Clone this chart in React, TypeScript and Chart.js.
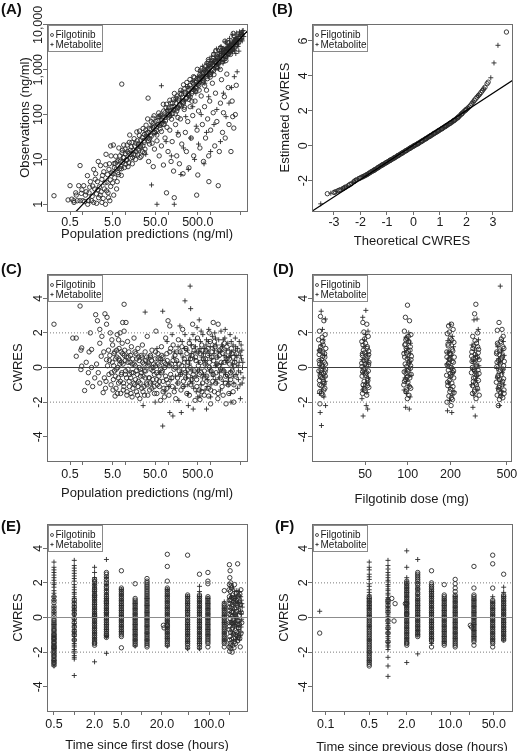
import React, { useEffect, useRef } from 'react';
import { Chart, registerables } from 'chart.js';

Chart.register(...registerables);

type Pt = [number, number];
type XY = { x: number; y: number };

// ---------------- tick values and labels ----------------
const predTicks = [0.5, 1, 5, 10, 50, 100, 500, 1000, 5000];
const predTickLabels = ['0.5', '', '5.0', '', '50.0', '', '500.0', '', ''];
const obsTicks = [1, 10, 100, 1000, 10000];
const obsTickLabels = ['1', '10', '100', '1,000', '10,000'];
const qqXTicks = [-3, -2, -1, 0, 1, 2, 3];
const qqXTickLabels = ['-3', '-2', '-1', '0', '1', '2', '3'];
const qqYTicks = [-2, 0, 2, 4, 6];
const qqYTickLabels = ['-2', '0', '2', '4', '6'];
const cwresTicks = [-4, -2, 0, 2, 4];
const cwresTickLabels = ['-4', '-2', '0', '2', '4'];
const doseTicks = [50, 100, 200, 500];
const doseTickLabels = ['50', '100', '200', '500'];
const firstDoseTicks = [0.5, 1, 2, 5, 10, 20, 50, 100, 200];
const firstDoseTickLabels = ['0.5', '', '2.0', '5.0', '', '20.0', '', '100.0', ''];
const prevDoseTicks = [0.1, 0.2, 0.5, 1, 2, 5, 10, 20, 50];
const prevDoseTickLabels = ['0.1', '', '0.5', '', '2.0', '', '10.0', '', '50.0'];
const seriesNames = ['Filgotinib', 'Metabolite'];

// ---------------- reference lines ----------------
const identityLine: Pt[] = [[0.1, 0.1], [20000, 20000]];
const qqLine: Pt[] = [[-4, -3.92], [4, 4.0]];
const cwresZero = 0;
const cwresBounds = [-2, 2];

// ---------------- (A) observations vs population predictions (ng/ml) ----------------
const aFilgotinib: Pt[] = [
  [0.62,1.1],[0.68,1.8],[0.74,1.2],[0.8,2.6],[0.86,1.2],[0.92,1.75],[1.0,1.2],[1.05,2.6],[1.1,1.15],[1.2,1.9],
  [1.28,4.35],[1.35,1.2],[1.4,1.8],[1.5,3.2],[1.6,1.2],[1.7,2.55],[1.8,1.1],[1.9,2.2],[2.0,4.8],[2.1,1.7],
  [2.2,3.2],[2.35,1.4],[2.45,2.45],[2.6,7.3],[2.7,1.9],[2.8,3.6],[3.0,1.35],[3.1,5.3],[3.3,3.0],[3.45,7.6],
  [3.6,2.0],[3.8,4.6],[4.0,1.4],[4.2,8.0],[4.4,3.5],[4.6,12],[4.8,5.0],[5.0,3.0],[5.2,21],[5.4,8.1],
  [5.6,3.9],[5.9,11.8],[6.1,6.1],[6.4,3.2],[6.7,9.4],[7.0,18],[7.3,6.2],[7.6,9.1],[8.0,4.4],[8.3,14],
  [8.7,8.7],[9.1,21],[9.5,6.6],[10,13.5],[10.5,9.5],[11,21],[11.5,6.9],[12,13.8],[12.6,35],[13.2,10.6],
  [13.8,19],[14.5,8],[15.2,16],[16,29],[16.8,12.6],[17.6,23],[18.5,41],[19.4,12.6],[20.3,22],[21.3,34],
  [22.4,19],[23.5,11.8],[24.7,31],[26,49],[27.3,26],[28.7,17],[30,45],[31.6,33],[33.2,80],[34.9,26],
  [36.7,48],[38.5,35],[40.5,69],[42.5,23],[44.7,51],[47,94],[49.4,40],[52,70],[54.6,35],[57.4,60],
  [60.3,109],[63.4,57],[66.6,97],[70,42],[73.6,88],[77.4,170],[81.3,61],[85.5,86],[89.8,144],[94.4,52],
  [99.2,124],[104,88],[110,209],[115,121],[121,79],[127,178],[134,127],[141,296],[148,104],[155,178],
  [163,261],[171,86],[180,234],[189,170],[199,348],[209,157],[220,242],[231,462],[243,146],[255,319],
  [268,228],[282,423],[296,296],[311,218],[327,605],[344,378],[361,199],[380,513],[399,359],[420,672],
  [441,331],[464,557],[487,1023],[512,486],[538,350],[566,792],[595,625],[625,1063],[657,526],[691,864],
  [726,436],[763,1183],[802,802],[843,632],[886,1683],[931,1071],[979,685],[1029,1389],[1081,973],[1137,1819],
  [1195,777],[1256,1507],[1320,2640],[1387,1179],[1458,1895],[1532,1532],[1611,2739],[1693,1016],[1780,2047],[1871,1497],
  [1966,2851],[2067,2067],[2172,4344],[2283,1598],[2400,3000],[2523,2271],[2652,3978],[2787,3066],[2930,2198],[3080,4158],
  [3237,3237],[3403,6466],[3577,3040],[3760,4512],
  [5.5,6.5],[6.3,8.8],[7.8,7.0],[9.3,11],[11.2,15],[13.5,13],[16.4,20],[19.8,17],[23,27],[27.8,36],
  [33.8,30],[40,47],[48,55],[58,74],[70,63],[85,110],[102,100],[123,150],[148,132],[178,210],
  [214,200],[258,290],[310,350],[372,330],[447,520],[537,610],[645,700],[775,880],[930,850],[1120,1300],
  [1340,1500],[1610,1550],[1930,2300],[2320,2500],[2790,2600],[3340,3600],[4010,4300],
  [6.9,4.6],[8.5,16],[10.2,7.8],[12.3,24],[14.8,11],[17.8,15],[21.4,43],[25.7,20],[30.8,38],[37,29],
  [44.4,83],[53.3,44],[64,90],[76.8,60],[92,170],[111,95],[133,220],[160,120],[192,300],[230,180],
  [276,520],[331,250],[397,700],[477,380],[572,950],[686,560],[824,1400],[989,780],[1187,2200],[1424,1100],
  [1709,3100],[2050,1700],[2460,4100],[2950,2500],[3540,5600],
  [0.95,2.1],[1.15,1.6],[1.45,2.4],[1.65,1.5],[1.95,3.6],[2.25,2.1],[2.55,1.6],[2.9,4.4],[3.2,2.2],[3.7,3.1],
  [4.1,6.0],[4.5,2.5],[5.1,4.8],[5.8,8.2],[6.6,5.1],[7.4,12],[8.1,6.2],[8.9,11],[9.8,17],[10.8,10],
  [11.9,8.4],[13,16],[14.2,24],[15.6,13],[17.2,10],[18.9,26],[20.8,16],[22.9,21],[25.2,15],[27.7,24],
  [30.5,58],[33.5,40],[36.9,22],[40.6,33],[44.6,64],[49,40],[54,53],[59.4,88],[65.3,48],[71.9,75],
  [79,120],[87,72],[95.7,98],[105,140],[116,180],[127,105],[140,150],[154,230],[169,140],[186,160],
  [205,280],[225,190],[248,380],[272,240],[300,270],[330,450],[363,300],[399,480],[439,410],[483,620],
  [531,450],[584,720],[643,580],[707,980],[778,700],[855,1050],[941,1300],[1035,880],[1138,1600],[1252,1250],
  [1378,2000],[1515,1350],[1667,2300],[1833,1700],[2017,2600],[2218,2000],[2440,2900],[2684,2300],[2953,3500],[3248,2800],
  [3573,3900],[3930,3400],[1.3,1.0],[2.1,1.05],[2.8,1.1],[3.4,1.0],[4.3,1.2],[5.3,1.6],[6.2,2.2],[3.9,1.8],
  // scattered above the line at low predictions
  [0.21,1.55],[0.45,1.25],[0.5,2.6],[0.55,1.3],[0.61,1.2],[0.7,1.6],[0.86,7.3],[1.8,6],[2.3,9],[3.5,13],
  [4.5,20],[8.2,478],[34,233],
  // observations far below predictions
  [22,11],[28,14],[35,9],[45,6.9],[48,17],[55,26],[62,12],[70,20],[78,7.5],[85,30],
  [92,1.8],[100,15],[110,45],[118,9],[125,25],[135,5.5],[140,1.4],[150,60],[160,12],[175,35],
  [185,8],[195,80],[210,22],[225,4.8],[240,130],[255,40],[270,15],[290,70],[310,6.5],[330,150],
  [350,30],[380,95],[400,12],[430,200],[470,1.6],[480,45],[500,4.5],[520,120],[560,18],[600,260],
  [640,60],[680,9],[720,150],[760,30],[800,350],[850,80],[910,3.2],[900,12],[950,200],[1000,45],
  [1100,500],[1150,110],[1250,20],[1300,300],[1400,70],[1510,2.6],[1600,15],[1700,180],[1800,600],[1900,40],
  [2000,110],[2100,250],[2200,30],[2400,800],[2600,400],[2700,60],[3000,15],[3200,200],[3300,90],[3500,50],
  [3800,100],[4000,450],
];
const aMetabolite: Pt[] = [
  [40,55],[52,38],[65,90],[80,70],[95,130],[120,95],[150,210],[180,140],[210,330],[250,200],
  [290,420],[330,260],[370,560],[410,380],[450,300],[490,700],[530,480],[570,900],[610,560],[650,1200],
  [690,720],[730,500],[770,1000],[810,1400],[850,760],[890,1150],[930,1700],[970,900],[1010,1300],[1060,2000],
  [1110,850],[1160,1500],[1210,2400],[1260,1100],[1310,1700],[1370,2900],[1430,1300],[1490,2000],[1550,1050],[1610,2500],
  [1680,1600],[1750,3300],[1820,1900],[1890,2600],[1960,1400],[2040,3000],[2120,2200],[2200,4200],[2290,1800],[2380,2800],
  [2470,3600],[2570,2100],[2670,3200],[2780,5000],[2890,2500],[3000,3800],[3120,2900],[3240,6000],[3370,3300],[3500,4300],
  [3640,2700],[3780,5200],[3930,3700],[4080,6600],[4240,4500],[4400,3300],[4580,5600],[4760,7000],[4950,4200],[5150,6200],
  [5350,5000],[5550,7300],[4600,2600],[3900,2300],[5800,6400],
  [600,750],[700,900],[820,1100],[950,1200],[1100,1500],[1250,1400],[1400,1800],[1600,2000],[1800,2300],[2000,2500],
  [2200,2700],[2400,3100],[2600,2900],[2800,3500],[3000,3300],[3200,4000],[3400,3800],[3600,4600],[3800,4200],[4000,5000],
  [4200,4800],[4400,5500],[4600,4500],[4800,6000],[5000,5600],[5200,6800],[5400,4700],[5600,6000],[5800,7500],[6000,5500],
  [1500,1300],[2500,2000],[3500,2900],[4500,3800],[5500,4400],[900,700],[1300,1000],[2100,1600],[3300,2600],[4300,3600],
  [30,13],[41,2.7],[55,1.0],[70,440],[90,25],[120,12],[140,1.0],[170,40],[200,4.6],[230,18],
  [260,90],[300,6],[340,30],[380,150],[420,10],[460,55],[520,22],[600,100],[700,8],[800,40],
  [900,250],[1000,15],[1200,60],[1400,130],[1700,25],[2000,300],[2300,90],[2700,180],[3100,400],[3600,700],
  [4200,900],
];

// ---------------- (B) estimated vs theoretical CWRES ----------------
const bFilgotinib: Pt[] = [
  [-3.25,-2.75],[-3.0,-2.68],[-2.85,-2.58],[-2.75,-2.52],[-2.65,-2.45],[-2.55,-2.36],[-2.45,-2.28],[-2.35,-2.18],[-2.25,-2.06],[-2.15,-1.95],
  [-2.05,-1.88],[-1.95,-1.8],[-1.85,-1.73],[-1.75,-1.65],[-1.65,-1.55],[-1.55,-1.46],[-1.5,-1.42],[-1.45,-1.37],[-1.4,-1.32],[-1.35,-1.27],
  [-1.3,-1.22],[-1.25,-1.17],[-1.2,-1.13],[-1.15,-1.08],[-1.1,-1.04],[-1.05,-0.99],[-1.0,-0.95],[-0.95,-0.9],[-0.9,-0.86],[-0.85,-0.81],
  [-0.8,-0.77],[-0.75,-0.72],[-0.7,-0.68],[-0.65,-0.63],[-0.6,-0.58],[-0.55,-0.54],[-0.5,-0.49],[-0.45,-0.44],[-0.4,-0.4],[-0.35,-0.35],
  [-0.3,-0.3],[-0.25,-0.26],[-0.2,-0.21],[-0.15,-0.16],[-0.1,-0.12],[-0.05,-0.07],[0,-0.03],[0.05,0.02],[0.1,0.06],[0.15,0.1],
  [0.2,0.15],[0.25,0.2],[0.3,0.24],[0.35,0.29],[0.4,0.34],[0.45,0.38],[0.5,0.43],[0.55,0.48],[0.6,0.53],[0.65,0.57],
  [0.7,0.62],[0.75,0.67],[0.8,0.72],[0.85,0.76],[0.9,0.81],[0.95,0.86],[1.0,0.91],[1.05,0.95],[1.1,1.0],[1.15,1.05],
  [1.2,1.1],[1.25,1.15],[1.3,1.2],[1.35,1.25],[1.4,1.3],[1.45,1.35],[1.5,1.41],[1.55,1.46],[1.6,1.52],[1.65,1.58],
  [1.7,1.65],[1.75,1.72],[1.8,1.8],[1.85,1.87],[1.9,1.95],[1.95,2.01],[2.0,2.08],[2.1,2.22],[2.2,2.4],[2.3,2.6],
  [2.4,2.78],[2.5,2.95],[2.6,3.15],[2.7,3.35],[2.78,3.55],[2.82,3.64],[3.51,6.51],
  [-2.95,-2.64],[-2.8,-2.55],[-2.6,-2.4],[-2.4,-2.22],[-2.2,-2.0],[-2.0,-1.84],[-1.9,-1.77],[-1.8,-1.69],[-1.7,-1.6],[-1.6,-1.5],
  [-1.475,-1.39],[-1.325,-1.25],[-1.175,-1.1],[-1.025,-0.97],[-0.875,-0.83],[-0.725,-0.7],[-0.575,-0.56],[-0.425,-0.42],[-0.275,-0.28],[-0.125,-0.14],
  [0.025,0.0],[0.175,0.12],[0.325,0.27],[0.475,0.41],[0.625,0.55],[0.775,0.7],[0.925,0.84],[1.075,0.98],[1.225,1.13],[1.375,1.28],
  [1.525,1.44],[1.675,1.61],[1.825,1.83],[1.975,2.05],[2.05,2.15],[2.15,2.3],[2.25,2.5],[2.35,2.69],[2.45,2.87],[2.55,3.05],
  [2.65,3.25],
];
const bMetabolite: Pt[] = [
  [-3.5,-3.33],[-3.12,-2.72],[-2.92,-2.63],[-2.7,-2.48],[-2.5,-2.32],[-2.3,-2.12],[-2.1,-1.9],[-1.9,-1.77],[-1.7,-1.6],[-1.6,-1.5],
  [-1.38,-1.3],[-1.12,-1.06],[-0.88,-0.84],[-0.62,-0.6],[-0.38,-0.38],[-0.12,-0.14],[0.12,0.08],[0.38,0.32],[0.62,0.55],[0.88,0.79],
  [1.12,1.02],[1.38,1.28],[1.62,1.55],[1.88,1.92],[2.05,2.15],[2.25,2.5],[2.45,2.86],[2.65,3.25],[2.92,3.89],[3.04,4.74],
  [3.19,5.75],
  [-2.6,-2.42],[-2.2,-2.02],[-1.8,-1.7],[-1.5,-1.41],[-1.25,-1.18],[-1.0,-0.96],[-0.75,-0.73],[-0.5,-0.5],[-0.25,-0.27],[0.0,-0.04],
  [0.25,0.19],[0.5,0.42],[0.75,0.66],[1.0,0.9],[1.25,1.14],[1.5,1.4],[1.75,1.71],
];

// ---------------- (C) CWRES vs population predictions ----------------
const cFilgotinib: Pt[] = [
  [0.21,2.5],[0.58,1.7],[0.7,1.7],[0.7,0.65],[0.86,3.55],[0.94,1.13],[0.9,1.0],[0.94,0.08],[0.9,-0.12],[1.1,-1.33],
  [1.3,-0.88],[1.5,2.0],[1.6,1.04],[1.6,0],[1.35,-0.3],[1.9,-0.6],[2.0,3.05],[2.2,2.7],[2.5,2.2],[2.5,1.4],
  [2.7,0.65],[2.5,-0.9],[3.0,-1.45],[3.6,0.45],[3.3,3.1],[3.7,2.9],[3.6,2.5],[4.4,2.0],[4.8,1.6],[4.0,1.0],
  [5.2,-0.7],[5.7,-1.65],[6.2,1.0],[9.3,3.65],[8.6,2.6],[10.3,2.6],[9.3,2.1],[7.5,2.0],[6.9,1.6],
  [1.2,0.3],[1.4,0.9],[1.7,-1.1],[2.1,0.2],[2.3,-0.3],[2.8,1.8],[3.1,0.9],[3.2,-0.6],[3.4,-1.2],[3.8,0.1],
  [4.1,-0.4],[4.3,0.7],[4.6,-1.0],[4.9,0.3],[5.0,1.3],[5.4,0.8],[5.5,-0.2],[5.9,0.5],[6.0,-1.2],[6.4,1.9],
  [6.6,0.0],[6.8,-0.6],[7.1,1.1],[7.3,0.4],[7.7,-1.5],[7.9,0.9],[8.2,-0.3],[8.4,1.4],[8.8,0.2],[9.0,-0.9],
  [9.6,1.0],[9.9,-0.4],[10.5,0.6],[10.8,-1.6],[11.2,1.5],[11.5,-0.1],[12,0.9],[12.4,-1.1],[12.9,0.3],[13.3,-0.6],
  [13.8,1.2],[14.3,-1.7],[14.8,0.5],[15.3,-0.3],[15.9,1.7],[16.4,-1.0],[17,0.1],[17.6,0.8],[18.2,-1.4],[18.9,-0.4],
  [19.6,1.1],[20.3,-0.8],[21,0.4],[21.8,-1.8],[22.6,-0.1],[23.4,0.7],[24.2,-1.2],[25,1.3],[26,-0.5],[27,0.2],
  [28,-1.6],[29,0.9],[30,-0.2],[31,-0.9],[32.5,1.8],[34,0.3],[35.5,-0.6],[37,-1.3],[38.5,0.6],[40,-0.1],
  [42,1.0],[44,-0.7],[46,0.2],[48,-1.5],[50,0.5],[52,2.1],[54,-0.3],[56,-1.0],[58,0.8],[61,-0.5],
  [64,0.1],[67,-1.9],[70,1.2],[73,-0.2],[76,0.6],[80,-1.2],[84,0.0],[88,1.7],[92,-0.7],[96,0.4],
  [100,2.7],[105,-1.6],[110,2.4],[110,0.9],[115,-0.4],[120,0.2],[126,-1.1],[132,1.3],[138,-0.1],[145,0.7],
  [152,-1.8],[159,0.4],[167,-0.6],[175,1.6],[183,-0.2],[192,0.9],[201,-1.3],[210,0.1],[220,2.2],[230,-0.8],
  [241,0.5],[252,-0.3],[264,1.1],[276,-1.5],[289,0.3],[302,-0.5],[316,1.4],[330,0.0],[345,-1.0],[361,0.7],
  [378,2.5],[390,-0.4],[410,1.0],[430,-1.9],[450,0.4],[470,-0.7],[492,1.7],[515,0.1],[539,-1.3],[560,-1.85],
  [564,0.8],[590,-0.3],[618,1.3],[647,-0.9],[677,0.5],[709,-1.6],[742,0.2],[777,1.0],[813,-0.5],[851,0.7],
  [891,-1.2],[900,-1.65],[930,2.0],[933,0.3],[977,1.5],[1000,-2.1],[1023,-0.2],[1071,0.9],[1121,-0.8],[1150,2.6],
  [1174,0.4],[1229,-1.4],[1287,1.2],[1347,-0.3],[1410,0.6],[1500,2.5],[1476,-1.8],[1545,0.1],[1618,1.0],[1694,-0.6],
  [1773,0.3],[1856,-1.1],[1943,0.8],[2034,-0.2],[2130,1.4],[2230,-0.9],[2300,-2.1],[2335,0.5],[2444,-0.4],[2559,0.9],
  [2679,-1.5],[2805,0.2],[2936,-0.7],[3074,1.1],[3218,-0.2],[3369,0.6],[3500,-2.0],[3527,-1.0],[3692,0.3],[3866,-0.5],
  [4047,0.8],
  [5.3,0.1],[5.8,-0.5],[6.3,0.6],[6.9,-0.9],[7.4,0.2],[8.0,-0.4],[8.6,0.8],[9.2,-1.1],[9.8,0.4],[10.6,-0.6],
  [11.4,0.3],[12.2,-0.8],[13.1,0.7],[14,-0.3],[15,-1.2],[16,0.2],[17.2,-0.7],[18.4,0.5],[19.7,-1.1],[21.1,0.0],
  [22.6,-0.5],[24.2,0.6],[25.9,-1.4],[27.7,-0.2],[29.7,0.4],[31.8,-1.0],[34,0.1],[36.4,-0.6],[39,0.7],[41.7,-1.2],
  [44.6,0.0],[47.7,-0.4],[51,0.9],[54.6,-1.5],[58.4,0.2],[62.5,-0.8],[66.9,0.5],[71.6,-0.3],[76.6,-1.4],[82,0.3],
  [87.7,-0.5],[93.8,0.8],[100,-0.9],[107,0.1],[115,1.1],[123,-0.6],[131,0.4],[140,-1.4],[150,0.0],[161,0.9],
  [172,-0.9],[184,0.2],[197,-0.4],[211,1.2],[226,-1.1],[242,0.3],[259,-0.6],[277,0.8],[296,-0.1],[317,-1.6],
  [339,0.5],[363,-0.7],[388,1.2],[415,-0.2],[444,0.6],[475,-1.1],[508,0.9],[544,-0.4],[582,0.3],[623,-1.4],
  [666,1.0],[713,-0.2],[763,0.5],[816,-0.8],[873,1.1],[934,0.0],[1000,-1.3],[1070,0.6],[1145,-0.4],[1225,1.5],
  [1311,-0.9],[1403,0.2],[1500,-1.5],[1606,0.7],[1718,-0.1],[1838,1.1],[1967,-1.6],[2105,0.3],[2252,-0.5],[2410,1.2],
  [2578,-1.0],[2759,0.5],[2952,-0.3],[3159,0.8],[3380,-1.4],[3616,0.1],
  [3.5,-0.8],[4.2,0.4],[4.7,-0.3],[5.1,-1.3],[5.6,0.9],[6.1,-0.1],[6.5,-1.5],[7.0,0.5],[7.6,-0.8],[8.1,0.3],
  [8.9,-1.3],[9.4,0.7],[10.1,-0.2],[10.9,-1.4],[11.7,0.6],[12.6,-0.4],[13.5,-1.5],[14.5,0.2],[15.6,-0.9],[16.7,0.9],
  [17.9,-0.2],[19.2,-1.6],[20.6,0.6],[22.1,-0.9],[23.7,-0.3],[25.4,0.3],[27.2,-1.1],[29.2,-0.6],[31.3,0.6],[33.5,-1.6],
  [35.9,0.2],[38.5,-0.9],[41.2,0.4],[44.2,-0.2],[47.3,-1.1],[50.7,0.1],[54.3,-0.7],[58.2,0.5],[62.4,-1.1],[66.8,-0.1],
  [71.6,0.7],[76.7,-0.8],[82.2,-1.7],[88,0.2],[94.3,-1.2],
];
const cMetabolite: Pt[] = [
  [29,3.2],[75,3.25],[250,3.85],[330,4.7],[340,3.4],[190,2.4],[540,2.75],[75,-3.38],[26,-2.2],[50,-2.0],
  [110,-2.6],[130,-2.8],[205,-2.6],[300,-2.2],[390,-2.4],[800,-2.4],[560,-1.65],[3000,-2.0],[5000,-1.8],
  [35,0.6],[42,-0.9],[55,1.1],[62,-0.3],[68,0.4],[85,-1.4],[95,1.5],[105,0.2],[118,-0.7],[125,1.9],
  [140,0.9],[148,-1.2],[160,0.3],[172,1.2],[180,-1.9],[195,-0.4],[215,1.5],[225,0.6],[238,-1.1],[250,1.9],
  [260,0.0],[272,-0.6],[285,1.0],[298,-1.5],[310,0.4],[325,1.6],[338,-0.8],[352,0.8],[368,-0.2],[385,1.9],
  [400,-1.2],[420,0.5],[440,1.2],[458,-0.5],[480,2.3],[500,-1.7],[525,0.9],[550,-0.1],[575,1.5],[600,-1.0],
  [625,0.6],[655,1.9],[680,-0.4],[710,1.1],[740,-1.3],[770,0.2],[800,1.6],[835,-0.7],[870,0.9],[905,2.2],
  [940,-0.2],[980,1.2],[1020,-1.0],[1060,0.5],[1100,1.8],[1150,-0.5],[1200,0.8],[1250,2.0],[1300,0.1],[1360,1.3],
  [1420,-0.9],[1480,0.6],[1550,1.6],[1610,-0.3],[1680,0.9],[1750,2.1],[1820,0.2],[1900,1.2],[1980,-0.8],[2060,0.7],
  [2150,1.7],[2240,-0.4],[2330,1.0],[2430,0.3],[2530,1.4],[2640,-0.6],[2750,0.6],[2860,1.9],[2980,-0.2],[3100,0.9],
  [3230,0.2],[3370,1.3],[3510,-0.9],[3660,0.4],[3810,1.0],[3970,-0.4],[4140,0.6],[4310,1.1],[4490,-0.7],[4680,0.3],
  [4880,0.9],[5100,-0.3],[5300,0.5],
  [320,0.2],[370,-0.9],[430,0.9],[490,-0.2],[560,1.1],[640,-0.6],[730,0.4],[830,-1.1],[950,0.7],[1080,-0.3],
  [1230,1.0],[1400,0.2],[1600,-0.6],[1820,1.3],[2070,-0.2],[2350,0.6],[2680,-1.0],[3050,1.5],[3470,0.0],[3950,0.7],
  [4500,-0.2],[5200,1.3],[5600,0.0],[5800,-0.6],[4300,-1.2],[3800,1.7],[2900,-1.5],[2200,2.2],[1700,-1.3],[1300,1.7],
  [1000,-1.7],[780,1.3],[600,2.1],[460,-1.4],[350,1.3],[270,-0.3],[200,0.8],[150,-0.5],[5400,1.0],[4900,-1.0],
  [105,-1.1],[135,0.6],[165,-0.9],[210,-0.2],[245,1.1],[290,-1.0],[335,0.6],[380,-0.6],[445,1.6],[520,0.3],
  [590,-1.3],[680,0.8],[770,-0.5],[880,1.5],[1010,0.0],[1150,1.2],[1320,-0.7],[1510,0.9],[1730,-0.1],[1980,1.6],
  [2260,0.4],[2590,-0.8],[2960,0.7],[3390,-0.5],[3880,1.2],[4440,0.1],[5080,0.7],[5700,0.3],[5500,-0.9],[4700,1.5],
];

// ---------------- (D) CWRES vs filgotinib dose (mg, jittered) ----------------
const dFilgotinib: Pt[] = [
  [24.2,2.95],[25.6,2.7],[23.8,2.1],[26.1,1.9],[24.9,1.75],[23.5,1.6],[25.3,1.3],[26.4,1.1],[24.0,0.95],[25.1,0.9],
  [23.7,0.75],[26.0,0.6],[24.6,0.45],[25.8,0.3],[23.9,0.2],[25.0,0.05],[26.3,-0.1],[24.4,-0.15],[23.6,-0.2],[25.5,-0.35],
  [24.1,-0.45],[26.2,-0.5],[24.8,-0.6],[23.8,-0.75],[25.7,-0.9],[24.5,-1.05],[26.0,-1.2],[23.9,-1.4],[25.2,-1.6],[24.0,-2.1],
  [25.1,1.5],[24.3,1.2],[25.9,0.8],[23.7,0.4],[24.9,0.15],[26.1,-0.25],[24.2,-0.55],[25.4,-0.8],[23.9,-1.0],[25.6,-1.3],
  [24.6,-0.3],[25.2,0.65],[24.0,1.0],[26.3,0.2],[24.7,-1.5],
  [48.2,2.6],[51.4,2.5],[49.0,2.05],[52.6,1.8],[47.4,1.5],[50.3,1.4],[51.8,1.2],[48.6,1.0],[53.0,0.95],[49.5,0.85],
  [47.8,0.7],[52.2,0.6],[50.8,0.55],[48.9,0.4],[53.2,0.3],[47.3,0.25],[51.1,0.1],[49.8,-0.05],[52.7,-0.2],[48.0,-0.25],
  [50.5,-0.35],[47.6,-0.5],[52.0,-0.65],[49.2,-0.8],[51.6,-0.9],[48.4,-1.0],[53.1,-1.15],[50.1,-1.35],[47.9,-1.5],[51.3,-1.6],
  [49.6,1.65],[51.7,1.1],[47.9,0.8],[50.9,0.45],[52.9,0.15],[48.6,-0.1],[50.4,-0.45],[52.3,-0.75],[49.0,-1.25],[51.2,-0.3],
  [47.5,0.05],[53.0,0.75],[48.3,1.3],[51.9,-1.05],[49.9,0.2],
  [99.5,3.6],[96.2,2.9],[102.8,2.7],[94.6,2.1],[105.2,1.9],[98.1,1.7],[101.9,1.5],[95.3,1.3],[104.1,1.2],[97.4,1.1],
  [100.6,0.95],[93.9,0.8],[106.0,0.65],[99.0,0.5],[102.3,0.35],[95.8,0.2],[104.7,0.1],[97.9,0.05],[101.2,-0.1],[94.3,-0.25],
  [105.6,-0.4],[98.6,-0.55],[103.4,-0.6],[96.5,-0.7],[100.2,-0.85],[93.7,-1.0],[104.9,-1.2],[97.1,-1.4],[102.0,-1.6],[99.3,-1.8],
  [100.9,1.8],[96.8,1.6],[103.7,1.0],[98.4,0.85],[95.0,0.6],[101.6,0.25],[104.3,-0.05],[97.2,-0.35],[99.8,-0.5],[94.8,-0.8],
  [102.7,-1.1],[98.0,-1.3],[105.3,0.45],[96.1,1.35],[100.5,-0.2],
  [203.5,2.5],[194.0,2.4],[208.8,2.2],[190.2,1.95],[199.6,1.7],[211.4,1.45],[192.7,1.25],[205.8,1.05],[188.4,0.9],[201.1,0.75],
  [212.6,0.6],[195.5,0.5],[197.3,0.45],[209.7,0.3],[189.6,0.15],[203.0,0.0],[193.1,-0.15],[207.2,-0.3],[198.8,-0.35],[187.9,-0.45],
  [210.9,-0.6],[196.1,-0.75],[204.6,-0.9],[191.4,-1.05],[200.3,-1.25],[212.0,-1.45],[194.8,-1.65],[206.5,-1.85],[189.1,-2.0],[201.9,-2.2],
  [196.4,2.05],[203.9,1.6],[192.1,1.35],[207.8,0.95],[199.0,0.8],[188.9,0.6],[205.0,0.35],[195.8,0.05],[210.4,-0.2],[201.5,-0.5],
  [190.8,-0.85],[208.3,-1.1],[197.9,-1.4],[203.3,-1.75],[193.9,0.25],
  [302,3.65],[296,3.1],[311,2.0],[287,1.8],[305,1.4],[292,1.25],[316,1.05],[283,0.9],[299,0.75],[309,0.6],
  [289,0.5],[318,0.45],[294,0.3],[304,0.15],[285,0.0],[313,-0.15],[297,-0.2],[281,-0.3],[307,-0.45],[291,-0.6],
  [315,-0.75],[300,-0.9],[286,-1.05],[310,-1.2],[295,-1.4],[319,-1.6],[303,-1.8],
  [298,1.55],[288,1.1],[314,0.85],[302,0.55],[284,0.35],[307,0.05],[293,-0.1],[318,-0.35],[290,-0.8],[305,-1.0],
  [296,-1.3],[282,0.65],[311,1.2],[299,-0.55],[286,-1.5],
  [440,2.6],[462,2.2],[428,2.15],[471,1.8],[451,1.5],[433,1.3],[476,1.1],[445,0.95],[423,0.8],[466,0.65],
  [455,0.5],[437,0.4],[479,0.35],[448,0.2],[425,0.05],[469,-0.1],[442,-0.25],[458,-0.4],[430,-0.55],[474,-0.65],
  [446,-0.7],[421,-0.85],[463,-1.0],[438,-1.15],[477,-1.3],[452,-1.45],[427,-1.6],[468,-1.75],[443,-1.85],[435,-2.2],
  [457,1.65],[429,1.4],[469,1.2],[441,0.75],[461,0.55],[426,0.3],[474,0.1],[450,-0.15],[434,-0.45],[466,-0.8],
  [444,-1.05],[478,-1.5],[437,-1.3],[453,-1.65],[424,0.9],
];
const dMetabolite: Pt[] = [
  [24.5,3.25],[26.2,2.8],[25.0,2.2],[23.7,1.0],[25.9,0.7],[24.3,0.4],[25.4,-0.05],[23.9,-0.3],[26.1,-0.8],[24.7,-1.3],
  [25.6,-1.7],[26.3,-2.2],[24.1,-2.6],[24.6,-3.35],
  [25.3,1.6],[24.0,0.1],[26.0,-0.55],[24.4,1.3],[25.7,-1.0],[23.8,-1.5],
  [50.6,3.3],[48.1,2.9],[52.4,2.1],[49.4,1.6],[51.9,0.8],[47.7,0.45],[50.0,0.0],[52.8,-0.6],[48.8,-1.1],[51.5,-1.45],
  [47.5,-1.8],[50.9,-2.2],[52.1,-2.4],[48.4,-2.8],
  [49.0,1.2],[52.5,0.3],[48.3,-0.3],[51.1,-0.9],[50.2,1.9],[47.9,-1.3],
  [101.5,2.0],[97.0,1.75],[104.4,1.4],[94.9,0.9],[99.8,0.6],[103.0,0.3],[96.0,-0.2],[105.4,-0.45],[98.3,-0.8],[101.7,-1.05],
  [94.2,-1.3],[103.8,-1.7],[96.6,-2.3],[102.5,-2.4],
  [98.9,1.1],[102.1,0.0],[95.6,-0.6],[104.0,0.8],[97.7,-1.5],[100.8,1.55],
  [198.0,2.5],[206.0,1.8],[191.8,1.55],[210.2,1.2],[195.0,0.95],[202.6,0.7],[188.7,0.2],[208.1,-0.3],[199.2,-0.55],[193.6,-0.9],
  [211.7,-1.4],[197.0,-1.9],[190.5,-2.5],[204.3,-2.6],
  [201.2,1.45],[194.4,0.5],[207.4,-0.05],[198.7,-1.15],[205.5,-1.6],[191.0,0.85],
  [308,2.8],[293,2.75],[314,2.2],[284,1.3],[301,0.7],[290,0.35],[317,0.1],[297,-0.25],[306,-0.5],[282,-1.0],
  [312,-1.3],[288,-2.3],[299,-2.8],
  [295,1.0],[310,0.5],[286,-0.1],[303,-0.75],[292,-1.6],[315,1.6],
  [449,4.7],[472,1.5],[431,1.2],[459,0.9],[478,0.7],[439,0.2],[424,-0.05],[465,-0.3],[447,-0.8],[475,-1.0],
  [432,-1.2],[456,-1.6],[444,-2.2],
  [462,1.0],[436,0.5],[470,-0.1],[428,-0.6],[458,-1.35],[449,0.35],
];

// ---------------- (E) CWRES vs time since first dose (hours) ----------------
const eTimes = [0.5, 1, 2, 3, 5, 8, 12, 24, 48, 72, 96, 168];
const eFilgotinibCols: number[][] = [
  [1.2,0.85,0.5,0.2,-0.1,-0.3,-0.5,-0.7,-0.85,-1.0,-1.15,-1.3,-1.45,-1.6,-1.75,-1.9,-2.05,-2.2,-2.35,-2.5,-2.65,-0.2,-1.2,-1.7,-0.6,
   1.0,0.65,0.35,0.05,-0.4,-0.75,-0.95,-1.05,-1.25,-1.4,-1.5,-1.65,-1.8,-1.95,-2.1,-2.25,-2.45,-2.6,-2.75],
  [1.0,0.6,0.2,-0.3,-0.8,-1.3,0.8,0.4,-0.05,-0.55,-1.0],
  [2.2,2.05,1.85,1.6,1.35,1.15,0.95,0.75,0.55,0.35,0.15,-0.05,-0.25,-0.45,-0.65,-0.85,-1.05,-1.25,-1.45,-1.6,1.25,0.1,
   2.1,1.95,1.7,1.5,1.25,1.05,0.85,0.65,0.45,0.25,0.05,-0.15,-0.35,-0.55,-0.75,-0.95,-1.15,-1.35,-1.5],
  [2.6,2.5,2.2,1.95,1.7,1.45,1.2,1.0,0.8,0.6,0.4,0.2,0.0,-0.2,-0.4,-0.6,-0.8,-1.0,-1.15,0.9,0.3,
   2.35,2.05,1.8,1.55,1.3,1.1,0.9,0.7,0.5,0.3,0.1,-0.1,-0.3,-0.5,-0.7,-0.9,-1.05],
  [2.7,1.7,1.5,1.3,1.1,0.9,0.7,0.5,0.3,0.1,-0.1,-0.3,-0.5,-0.7,-0.9,-1.1,-1.75,0.2,
   1.6,1.4,1.2,1.0,0.8,0.6,0.4,0.0,-0.2,-0.4,-0.6,-0.8,-1.0],
  [1.95,1.1,0.9,0.7,0.5,0.3,0.1,-0.1,-0.3,-0.5,-0.7,-0.9,-1.1,-1.3,-1.5,-1.6,
   1.0,0.8,0.6,0.4,0.2,0.0,-0.2,-0.4,-0.6,-0.8,-1.0,-1.2,-1.4],
  [2.25,2.0,1.8,1.6,1.4,1.2,1.0,0.8,0.6,0.4,0.2,0.0,-0.2,-0.4,-0.6,-0.8,-1.0,-1.2,-1.4,-1.6,-1.7,
   2.1,1.9,1.7,1.5,1.3,1.1,0.9,0.7,0.5,0.3,0.1,-0.1,-0.3,-0.5,-0.7,-0.9,-1.1,-1.3,-1.5],
  [3.65,2.95,2.1,1.7,1.5,1.3,1.1,0.9,0.7,0.5,0.3,0.1,-0.1,-0.3,-0.5,-0.7,-0.9,-1.1,-1.3,-1.5,-1.6,-0.45,
   1.6,1.4,1.2,1.0,0.8,0.6,0.4,0.2,0.0,-0.2,-0.4,-0.6,-0.8,-1.0,-1.2,-1.4],
  [3.6,1.3,1.1,0.9,0.7,0.5,0.3,0.1,-0.1,-0.3,-0.5,-0.7,-0.9,-1.1,-1.3,-1.5,-1.75,
   1.2,1.0,0.8,0.6,0.4,0.2,0.0,-0.2,-0.4,-0.6,-0.8,-1.0,-1.2,-1.4,-1.6],
  [2.5,1.3,1.1,0.9,0.7,0.5,0.3,0.1,-0.1,-0.3,-0.5,-0.7,-0.9,-1.1,-1.3,-1.5,-1.75,
   1.2,1.0,0.8,0.6,0.4,0.2,0.0,-0.2,-0.4,-0.6,-0.8,-1.0,-1.2,-1.4,-1.6],
  [2.6,2.1,1.95,1.2,1.0,0.8,0.6,0.4,0.2,0.0,-0.2,-0.4,-0.6,-0.8,-1.0,-1.2,-1.4,-1.7,
   1.1,0.9,0.7,0.5,0.3,0.1,-0.1,-0.3,-0.5,-0.7,-0.9,-1.1,-1.3,-1.5],
  [1.55,0.8,0.6,0.4,0.2,0.0,-0.2,-0.4,-0.6,-0.8,-1.0,-1.2,-1.4,-1.7,
   0.7,0.5,0.3,0.1,-0.1,-0.3,-0.5,-0.7,-0.9,-1.1,-1.3,-1.5],
];
const eMetaboliteCols: number[][] = [
  [3.2,2.9,2.6,2.3,2.0,1.75,1.4,1.0,0.6,0.3,-0.4,-1.1,-1.8,-2.5,-2.8,2.75,2.45,2.15,1.9,1.55,1.2],
  [3.3,3.0,2.7,2.4,2.1,1.9,1.6,1.35,1.1,0.85,0.6,0.4,0.15,-0.1,-0.35,-0.55,-0.8,-1.0,-1.25,-1.5,-1.7,-1.95,-2.2,-2.4,-3.35,
   2.85,2.55,2.25,1.75,1.45,1.2,0.95,0.7,0.5,0.25,0.0,-0.2,-0.45,-0.7,-0.9,-1.1,-1.35,-1.6,-1.85,-2.05,-2.3],
  [2.9,2.6,2.3,1.9,1.5,1.0,0.5,0.0,-0.6,-1.2,-2.56,1.7,1.25,0.75,0.25,-0.3,-0.9],
  [3.35,2.3,1.6,1.1,0.5,-0.1,-0.7,-1.1,-2.07,1.9,1.35,0.8,0.2,-0.4],
  [1.6,1.0,0.4,-0.2,-0.8,1.3,0.7,0.1,-0.5],
  [0.8,0.2,-0.4,-1.0,-1.65,0.5,-0.1,-0.7,-1.3],
  [1.1,0.3,-0.5,-1.3,0.7,-0.1,-0.9],
  [1.6,0.9,0.2,-0.6,-1.2,-1.65,1.25,0.55,-0.2,-0.9],
  [1.2,0.4,-0.4,-1.0,-1.8,0.8,0.0,-0.7,-1.4],
  [1.8,1.2,0.6,0.0,-0.6,-1.2,-1.8,1.5,0.9,0.3,-0.3,-0.9,-1.5],
  [1.1,0.5,-0.1,-0.7,0.8,0.2,-0.4,-1.0],
  [0.9,0.1,-0.9,0.5,-0.3,-1.3],
];
const eLateFilgotinib: Pt[] = [
  [200,3.05],[265,3.1],[205,2.7],[203,2.3],[210,2.0],[200,1.9],[215,1.7],[207,1.5],[222,1.3],[200,1.2],
  [212,1.05],[230,0.9],[204,0.8],[218,0.65],[240,0.5],[202,0.4],[226,0.3],[210,0.15],[250,0.05],[205,-0.05],
  [233,-0.2],[214,-0.3],[260,-0.4],[201,-0.5],[222,-0.6],[245,-0.75],[208,-0.85],[230,-0.95],[203,-1.1],[270,-1.15],
  [216,-1.25],[237,-1.4],[205,-1.5],[225,-1.6],[290,-1.7],[210,-1.8],[202,-1.95],[220,-2.0],[255,1.4],[280,0.9],
  [275,-0.6],[300,0.3],[285,-1.2],[262,0.7],[248,-1.0],[238,1.9],[296,1.6],[212,0.55],[228,-0.1],[244,0.2],
  [268,-0.2],[206,1.0],[235,-0.45],[258,-0.85],[219,-0.7],[21,-0.45],[21.5,-0.6],
  [198,1.6],[199,1.0],[200,0.6],[199,0.2],[200,-0.3],[199,-0.7],[200,-1.3],[199,-1.7],[213,1.85],[217,1.15],
  [221,0.75],[224,0.1],[227,-0.35],[231,-1.2],[234,-1.75],[239,1.1],[242,-0.3],[247,-1.5],[252,1.0],[257,0.35],
  [263,-1.35],[272,1.25],[278,0.1],[283,-0.4],[292,0.75],[298,-0.9],[305,-0.3],[286,1.35],[208,-1.6],[215,0.3],
];
const eLateMetabolite: Pt[] = [
  [225,1.7],[240,1.5],[260,1.3],[280,1.2],[300,1.0],[232,0.85],[252,0.7],[272,0.5],[292,0.35],[228,0.2],
  [248,0.05],[268,-0.1],[288,-0.25],[236,-0.4],[256,-0.55],[276,-0.7],[296,-0.85],[244,-1.0],[264,-1.15],[284,-1.3],
  [304,-0.1],[222,-0.9],[310,0.6],[215,1.2],[209,-0.3],
  [236,1.25],[250,0.95],[266,0.85],[286,0.65],[302,0.2],[242,-0.2],[262,0.25],[278,-0.45],[298,-0.55],[254,-1.25],
  [270,-0.95],[290,-1.05],[230,-1.3],[306,0.8],[246,1.1],[258,1.55],[282,1.5],[274,0.9],[294,1.2],[238,0.45],
];

// ---------------- (F) CWRES vs time since previous dose (hours) ----------------
const fTimes = [0.08, 0.5, 1, 2, 3, 5, 8, 12, 24, 48, 72];
const fFilgotinibCols: number[][] = [
  [-0.9],
  [1.2,1.0,0.8,0.6,0.4,0.2,0.0,-0.2,-0.4,-0.6,-0.8,-1.0,-1.2,-1.4,-1.6,-1.8,-2.0,-2.2,-2.4,-2.6,-2.8,-1.1,-1.7,-0.5,
   1.1,0.9,0.7,0.5,0.3,0.1,-0.1,-0.3,-0.7,-0.9,-1.3,-1.5,-1.9,-2.1,-2.3,-2.5,-2.7],
  [1.0,0.7,-0.2,0.3,-0.9,-1.4,0.9,0.5,-0.6],
  [2.1,1.95,1.75,1.55,1.35,1.15,0.95,0.75,0.55,0.35,0.15,-0.05,-0.25,-0.45,-0.65,-0.85,-1.05,-1.25,-1.45,-1.6,0.8,0.2,
   2.0,1.85,1.65,1.45,1.25,1.05,0.85,0.65,0.45,0.25,0.05,-0.15,-0.35,-0.55,-0.75,-0.95,-1.15,-1.35,-1.5],
  [2.6,2.5,2.3,2.1,1.85,1.6,1.35,1.1,0.9,0.7,0.5,0.3,0.1,-0.1,-0.3,-0.5,-0.7,-0.9,-1.1,1.0,0.4,
   2.4,2.2,1.95,1.7,1.45,1.2,0.8,0.6,0.2,0.0,-0.2,-0.4,-0.6,-0.8,-1.0],
  [2.7,2.0,1.8,1.6,1.4,1.2,1.0,0.8,0.6,0.4,0.2,0.0,-0.2,-0.4,-0.6,-0.8,-1.0,-1.2,-1.35,-1.7,
   1.9,1.7,1.5,1.3,1.1,0.9,0.7,0.5,0.3,0.1,-0.1,-0.3,-0.5,-0.7,-0.9,-1.1,-1.3],
  [1.9,1.3,1.1,0.9,0.7,0.5,0.3,0.1,-0.1,-0.3,-0.5,-0.7,-0.9,-1.1,-1.3,-1.5,-1.6,
   1.2,1.0,0.8,0.6,0.4,0.2,0.0,-0.2,-0.4,-0.6,-0.8,-1.0,-1.2,-1.4],
  [2.2,1.95,1.7,1.5,1.3,1.1,0.9,0.7,0.5,0.3,0.1,-0.1,-0.3,-0.5,-0.7,-0.9,-1.1,-1.3,-1.5,-1.7,
   1.2,1.0,0.8,0.6,0.4,0.2,0.0,-0.2,-0.4,-0.6,-0.8,-1.0,-1.2,-1.4,-1.6],
  [2.95,1.7,1.3,1.1,0.9,0.7,0.5,0.3,0.1,-0.1,-0.3,-0.5,-0.7,-0.9,-1.1,-1.3,-1.6,
   1.2,1.0,0.8,0.6,0.4,0.2,0.0,-0.2,-0.4,-0.6,-0.8,-1.0,-1.2,-1.4],
  [3.6,3.1,1.7,1.0,0.8,0.6,0.4,0.2,0.0,-0.2,-0.4,-0.6,-0.8,-1.0,-1.2,-1.4,-1.7,
   0.9,0.7,0.5,0.3,0.1,-0.1,-0.3,-0.5,-0.7,-0.9,-1.1,-1.3,-1.5],
  [2.5,1.3,1.1,0.9,0.7,0.5,0.3,0.1,-0.1,-0.3,-0.5,-0.7,-0.9,-1.1,-1.3,
   1.2,1.0,0.8,0.6,0.4,0.2,0.0,-0.2,-0.4,-0.6,-0.8,-1.0,-1.2],
];
const fMetaboliteCols: number[][] = [
  [0.36],
  [3.2,2.9,2.5,2.2,1.95,1.6,1.3,0.9,0.5,0.1,-0.5,-1.3,-2.0,-2.5,2.75,2.35,1.8,1.45,1.1,0.7],
  [3.3,3.0,2.8,2.6,2.3,2.05,1.8,1.55,1.3,1.05,0.8,0.55,0.3,0.05,-0.2,-0.45,-0.7,-0.95,-1.2,-1.45,-1.7,-1.85,-2.3,-2.8,-3.4,
   2.45,2.15,1.9,1.65,1.4,1.15,0.9,0.65,0.4,0.15,-0.1,-0.35,-0.6,-0.85,-1.1,-1.35,-1.6],
  [3.85,2.9,2.3,1.7,1.2,0.6,0.0,-0.6,-1.2,-2.6,2.0,1.45,0.9,0.3,-0.3,-0.9],
  [3.35,2.0,1.3,0.7,0.1,-0.5,-1.0,-2.1,1.65,1.0,0.4,-0.2,-0.75],
  [1.5,0.9,0.3,-0.3,-0.9,-1.5,1.2,0.6,0.0,-0.6,-1.2],
  [1.0,0.4,-0.2,-0.8,-1.4,0.7,0.1,-0.5,-1.1],
  [1.2,0.6,0.0,-0.6,-1.2,0.9,0.3,-0.3,-0.9],
  [1.0,0.3,-0.4,-1.1,0.65,-0.05,-0.75],
  [1.2,0.5,-0.2,-0.9,0.85,0.15,-0.55,-1.25],
  [1.75,1.2,0.7,0.2,-0.3,-0.8,-1.3,1.45,0.95,0.45,-0.05,-0.55,-1.05],
];
const fOffColumnFilgotinib: Pt[] = [[1.15,1.1],[1.3,0.8],[1.25,-0.2],[1.9,0.8],[21,-0.45],[22,-0.55]];

// ---------------- styling ----------------
const FONT = '"Liberation Sans", Arial, Helvetica, sans-serif';
const INK = '#1a1a1a';
const FRAME = '#6e6e6e';
const MARK = '#2a2a2a';

const xy = (pts: Pt[]): XY[] => pts.map(([x, y]) => ({ x, y }));
const fromColumns = (times: number[], cols: number[][]): XY[] => {
  const out: XY[] = [];
  times.forEach((t, i) => cols[i].forEach((y) => out.push({ x: t, y })));
  return out;
};
const hLine = (level: number, xMin: number, xMax: number): XY[] => [{ x: xMin, y: level }, { x: xMax, y: level }];

type AxisCfg = { type: 'linear' | 'logarithmic'; min: number; max: number; ticks: number[]; labels: string[]; title: string };
type Ref = { pts: XY[]; color: string; width: number; dash: number[] };
type Panel = {
  tag: string; left: number; top: number; height: number; boxLeft: number;
  x: AxisCfg; y: AxisCfg;
  xLabelCenter: number; xTitleCenter: number; yTitleCenter: number;
  tagX: number; tagY: number;
  circles: XY[]; crosses: XY[]; refs: Ref[];
};

const cwresRefs = (xMin: number, xMax: number, zeroColor: string): Ref[] => [
  { pts: hLine(cwresZero, xMin, xMax), color: zeroColor, width: 1, dash: [] },
  ...cwresBounds.map((b) => ({ pts: hLine(b, xMin, xMax), color: '#7a7a7a', width: 1, dash: [1, 2] })),
];

const cwresAxis: AxisCfg = { type: 'linear', min: -5.4, max: 5.4, ticks: cwresTicks, labels: cwresTickLabels, title: 'CWRES' };
const predAxis: AxisCfg = { type: 'logarithmic', min: 0.144, max: 7145, ticks: predTicks, labels: predTickLabels, title: 'Population predictions (ng/ml)' };

const panels: Panel[] = [
  {
    tag: '(A)', left: 0, top: 0, height: 262, boxLeft: 47,
    x: predAxis,
    y: { type: 'logarithmic', min: 0.708, max: 10470, ticks: obsTicks, labels: obsTickLabels, title: 'Observations (ng/ml)' },
    xLabelCenter: 11.5, xTitleCenter: 234, yTitleCenter: 25, tagX: 1, tagY: 10,
    circles: xy(aFilgotinib), crosses: xy(aMetabolite),
    refs: [{ pts: xy(identityLine), color: '#000', width: 1.2, dash: [] }],
  },
  {
    tag: '(B)', left: 260, top: 0, height: 262, boxLeft: 52,
    x: { type: 'linear', min: -3.83, max: 3.72, ticks: qqXTicks, labels: qqXTickLabels, title: 'Theoretical CWRES' },
    y: { type: 'linear', min: -3.74, max: 6.97, ticks: qqYTicks, labels: qqYTickLabels, title: 'Estimated CWRES' },
    xLabelCenter: 11.5, xTitleCenter: 241, yTitleCenter: 25, tagX: 12, tagY: 10,
    circles: xy(bFilgotinib), crosses: xy(bMetabolite),
    refs: [{ pts: xy(qqLine), color: '#000', width: 1.2, dash: [] }],
  },
  {
    tag: '(C)', left: 0, top: 250, height: 262, boxLeft: 47,
    x: predAxis, y: cwresAxis,
    xLabelCenter: 14, xTitleCenter: 243, yTitleCenter: 18, tagX: 1, tagY: 20,
    circles: xy(cFilgotinib), crosses: xy(cMetabolite),
    refs: cwresRefs(0.144, 7145, '#3c3c3c'),
  },
  {
    tag: '(D)', left: 260, top: 250, height: 262, boxLeft: 52,
    x: { type: 'logarithmic', min: 21.1, max: 537, ticks: doseTicks, labels: doseTickLabels, title: 'Filgotinib dose (mg)' },
    y: cwresAxis,
    xLabelCenter: 14, xTitleCenter: 249, yTitleCenter: 23, tagX: 13, tagY: 20,
    circles: xy(dFilgotinib), crosses: xy(dMetabolite),
    refs: cwresRefs(21.1, 537, '#3c3c3c'),
  },
  {
    tag: '(E)', left: 0, top: 500, height: 251, boxLeft: 47,
    x: { type: 'logarithmic', min: 0.394, max: 365, ticks: firstDoseTicks, labels: firstDoseTickLabels, title: 'Time since first dose (hours)' },
    y: cwresAxis,
    xLabelCenter: 13.5, xTitleCenter: 245.5, yTitleCenter: 18, tagX: 1, tagY: 27,
    circles: [...fromColumns(eTimes, eFilgotinibCols), ...xy(eLateFilgotinib)],
    crosses: [...fromColumns(eTimes, eMetaboliteCols), ...xy(eLateMetabolite)],
    refs: cwresRefs(0.394, 365, '#8c8c8c'),
  },
  {
    tag: '(F)', left: 260, top: 500, height: 251, boxLeft: 52,
    x: { type: 'logarithmic', min: 0.0602, max: 98, ticks: prevDoseTicks, labels: prevDoseTickLabels, title: 'Time since previous dose (hours)' },
    y: cwresAxis,
    xLabelCenter: 13.5, xTitleCenter: 247, yTitleCenter: 24, tagX: 15, tagY: 27,
    circles: [...fromColumns(fTimes, fFilgotinibCols), ...xy(fOffColumnFilgotinib)],
    crosses: fromColumns(fTimes, fMetaboliteCols),
    refs: cwresRefs(0.0602, 98, '#8c8c8c'),
  },
];

const BOX_TOP = 24;
const BOX_BOTTOM = 211;
const BOX_W = 200;
const CANVAS_W = 260;
const TICK_FONT = 12.5;
const TITLE_FONT = 13;
const TICK_LEN = 4;

function axisOptions(a: AxisCfg, isX: boolean, size: number, tickPad: number, titlePad: { top: number; bottom: number }) {
  return {
    type: a.type,
    position: isX ? 'bottom' : 'left',
    min: a.min,
    max: a.max,
    bounds: 'data',
    afterBuildTicks: (s: any) => { s.ticks = a.ticks.map((v) => ({ value: v })); },
    afterFit: (s: any) => { if (isX) s.height = size; else s.width = size; },
    ticks: {
      display: isX, autoSkip: false, minRotation: 0, maxRotation: 0, padding: tickPad,
      color: INK, font: { family: FONT, size: TICK_FONT },
      callback: (_v: any, i: number) => a.labels[i],
    },
    grid: { display: true, drawOnChartArea: false, drawTicks: true, tickLength: TICK_LEN, tickWidth: 1, tickColor: FRAME, color: FRAME, lineWidth: 1 },
    border: { display: false },
    title: { display: true, text: a.title, color: INK, font: { family: FONT, size: TITLE_FONT }, padding: titlePad },
  };
}

function decorPlugin(p: Panel) {
  return {
    id: 'decor',
    afterDraw(chart: any) {
      const { ctx, chartArea: a, scales } = chart;
      ctx.save();
      // frame
      ctx.strokeStyle = FRAME;
      ctx.lineWidth = 1;
      ctx.setLineDash([]);
      ctx.strokeRect(Math.round(a.left) + 0.5, Math.round(a.top) + 0.5, Math.round(a.right - a.left), Math.round(a.bottom - a.top));
      // y tick labels, parallel to the axis
      ctx.fillStyle = INK;
      ctx.font = `${TICK_FONT}px ${FONT}`;
      ctx.textAlign = 'center';
      ctx.textBaseline = 'middle';
      p.y.ticks.forEach((v, i) => {
        const py = scales.y.getPixelForValue(v);
        ctx.save();
        ctx.translate(a.left - 8.5, py);
        ctx.rotate(-Math.PI / 2);
        ctx.fillText(p.y.labels[i], 0, 0);
        ctx.restore();
      });
      // legend
      const lx = Math.round(a.left) + 1.5;
      const ly = Math.round(a.top) + 1.5;
      ctx.fillStyle = '#ffffff';
      ctx.fillRect(lx, ly, 54, 26);
      ctx.strokeStyle = '#8a8a8a';
      ctx.strokeRect(lx, ly, 54, 26);
      ctx.strokeStyle = MARK;
      ctx.lineWidth = 0.8;
      ctx.beginPath();
      ctx.arc(lx + 3.5, ly + 9.5, 1.5, 0, Math.PI * 2);
      ctx.stroke();
      ctx.beginPath();
      ctx.moveTo(lx + 1.8, ly + 19); ctx.lineTo(lx + 5.2, ly + 19);
      ctx.moveTo(lx + 3.5, ly + 17.3); ctx.lineTo(lx + 3.5, ly + 20.7);
      ctx.stroke();
      ctx.fillStyle = INK;
      ctx.font = `10px ${FONT}`;
      ctx.textAlign = 'left';
      ctx.fillText(seriesNames[0], lx + 7, ly + 9.5);
      ctx.fillText(seriesNames[1], lx + 7, ly + 19.3);
      // panel tag
      ctx.font = `bold 15px ${FONT}`;
      ctx.fillStyle = '#111';
      ctx.textBaseline = 'middle';
      ctx.fillText(p.tag, p.tagX, p.tagY);
      ctx.restore();
    },
  };
}

function buildConfig(p: Panel): any {
  const boxRight = p.boxLeft + BOX_W;
  const xAxisH = p.height - BOX_BOTTOM;
  const datasets: any[] = [
    ...p.refs.map((r) => ({
      type: 'scatter', data: r.pts, showLine: true, borderColor: r.color, borderWidth: r.width,
      borderDash: r.dash, pointRadius: 0, fill: false,
    })),
    {
      type: 'scatter', label: seriesNames[0], data: p.circles, pointStyle: 'circle', pointRadius: 2.2,
      pointBorderWidth: 0.9, pointBorderColor: MARK, pointBackgroundColor: 'rgba(0,0,0,0)', showLine: false,
    },
    {
      type: 'scatter', label: seriesNames[1], data: p.crosses, pointStyle: 'cross', pointRadius: 2.5,
      pointBorderWidth: 0.9, pointBorderColor: MARK, pointBackgroundColor: MARK, showLine: false,
    },
  ];
  return {
    type: 'scatter',
    data: { datasets },
    options: {
      animation: false,
      responsive: false,
      maintainAspectRatio: false,
      devicePixelRatio: 1,
      events: [],
      layout: { padding: { left: 0, top: BOX_TOP, right: CANVAS_W - boxRight, bottom: 0 } },
      plugins: { legend: { display: false }, tooltip: { enabled: false }, title: { display: false } },
      scales: {
        x: axisOptions(p.x, true, xAxisH, p.xLabelCenter - TICK_LEN - TICK_FONT * 0.6,
          { top: 0, bottom: p.height - p.xTitleCenter - TITLE_FONT * 0.6 }),
        y: axisOptions(p.y, false, p.boxLeft, 0, { top: p.yTitleCenter - TITLE_FONT * 0.6, bottom: 0 }),
      },
    },
    plugins: [decorPlugin(p)],
  };
}

function PanelChart({ p }: { p: Panel }) {
  const ref = useRef<HTMLCanvasElement>(null);
  useEffect(() => {
    const canvas = ref.current;
    if (!canvas) return;
    const chart = new Chart(canvas, buildConfig(p));
    return () => chart.destroy();
  }, [p]);
  return (
    <canvas
      ref={ref}
      width={CANVAS_W}
      height={p.height}
      style={{ position: 'absolute', left: p.left, top: p.top, width: CANVAS_W, height: p.height }}
    />
  );
}

export default function App() {
  return (
    <div style={{ position: 'fixed', left: 0, top: 0, width: 520, height: 751, background: '#fff', overflow: 'hidden' }}>
      {panels.map((p) => (
        <PanelChart key={p.tag} p={p} />
      ))}
    </div>
  );
}
